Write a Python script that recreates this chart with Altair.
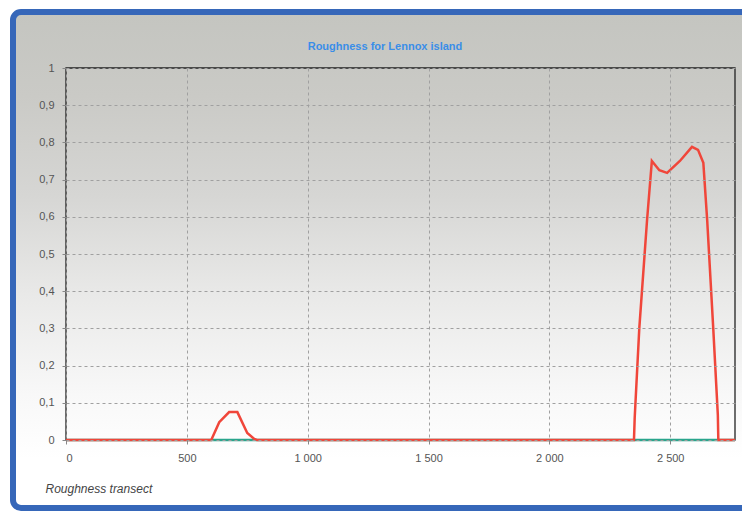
import altair as alt
import pandas as pd

# ---- data ----
x_pos = [0, 601, 634, 675, 709, 750, 779, 790,
         2350, 2353, 2372, 2404, 2424, 2455, 2487, 2540, 2590, 2615, 2637, 2653, 2678, 2697, 2699, 2768]
roughness = [0, 0, 0.048, 0.075, 0.075, 0.019, 0.003, 0,
             0, 0.06, 0.3, 0.59, 0.75, 0.725, 0.718, 0.75, 0.788, 0.78, 0.745, 0.59, 0.3, 0.067, 0, 0]
base_x = [0, 2768]
base_y = [0, 0]
x_ticks = [0, 500, 1000, 1500, 2000, 2500]
y_ticks = [0, 0.1, 0.2, 0.3, 0.4, 0.5, 0.6, 0.7, 0.8, 0.9, 1.0]
title_text = "Roughness for Lennox island"
x_title = "Roughness transect"

W, H = 669, 372
FONT = "Liberation Sans"

df = pd.DataFrame({"x": x_pos, "y": roughness})
df_base = pd.DataFrame({"x": base_x, "y": base_y})
dummy = pd.DataFrame({"a": [0]})
df_title = pd.DataFrame({"t": [title_text]})

xscale = alt.Scale(domain=[0, 2768], nice=False)
yscale = alt.Scale(domain=[0, 1], nice=False)

xaxis = alt.Axis(
    values=x_ticks,
    labelExpr="replace(format(datum.value, ','), ',', ' ')",
    grid=True, gridDash=[3, 3], gridColor="#a0a0a0", gridWidth=1,
    domain=False, tickColor="#888888", tickSize=4,
    labelPadding=8, labelColor="#555555", labelFontSize=11, labelFont=FONT,
    title=x_title, titleFont=FONT, titleFontStyle="italic", titleFontWeight="normal",
    titleFontSize=12, titleColor="#444444", titleAnchor="start", titleAlign="left",
    titleX=-21, titleY=48, titleBaseline="middle",
    zindex=1,
)
yaxis = alt.Axis(
    values=y_ticks,
    labelExpr="replace(format(datum.value, '.1~f'), '.', ',')",
    grid=True, gridDash=[3, 3], gridColor="#a0a0a0", gridWidth=1,
    domain=False, tickColor="#888888", tickSize=4,
    labelPadding=8, labelColor="#555555", labelFontSize=11, labelFont=FONT,
    title="", zindex=1,
)

frame = alt.Chart(dummy).mark_rect(
    fill=alt.Gradient(
        gradient="linear", x1=0, x2=0, y1=0, y2=1,
        stops=[
            alt.GradientStop(color="#c4c5c0", offset=0.0),
            alt.GradientStop(color="#cacac6", offset=0.17),
            alt.GradientStop(color="#d6d6d4", offset=0.37),
            alt.GradientStop(color="#e9e9e8", offset=0.57),
            alt.GradientStop(color="#f8f8f8", offset=0.77),
            alt.GradientStop(color="#ffffff", offset=0.9),
        ],
    ),
    stroke="#3667b9", strokeWidth=6, cornerRadius=8,
).encode(
    x=alt.value(-53), x2=alt.value(W + 90),
    y=alt.value(-56), y2=alt.value(H + 68),
)

border = alt.Chart(dummy).mark_rect(
    filled=False, stroke="#222222", strokeWidth=1.3
).encode(x=alt.value(0), x2=alt.value(W), y=alt.value(0), y2=alt.value(H))

title = alt.Chart(df_title).mark_text(
    color="#3a8ee8", fontSize=11, fontWeight="bold", font=FONT,
    align="center", baseline="middle",
).encode(x=alt.value(319), y=alt.value(-21), text="t:N")

base = alt.Chart(df_base).mark_line(color="#2aa58c", strokeWidth=2.5).encode(
    x=alt.X("x:Q", scale=xscale, axis=xaxis),
    y=alt.Y("y:Q", scale=yscale, axis=yaxis),
)

line = alt.Chart(df).mark_line(color="#f0463a", strokeWidth=2.5).encode(
    x=alt.X("x:Q", scale=xscale, axis=xaxis),
    y=alt.Y("y:Q", scale=yscale, axis=yaxis),
)

chart = alt.layer(frame, border, title, base, line).properties(
    width=W, height=H,
    padding={"left": 58, "top": 60, "right": 7, "bottom": 72},
    autosize=alt.AutoSizeParams(type="none"),
).configure_view(strokeWidth=0).configure(background="#ffffff")

chart.save("out.html", embed_options={"renderer": "svg", "actions": False})
